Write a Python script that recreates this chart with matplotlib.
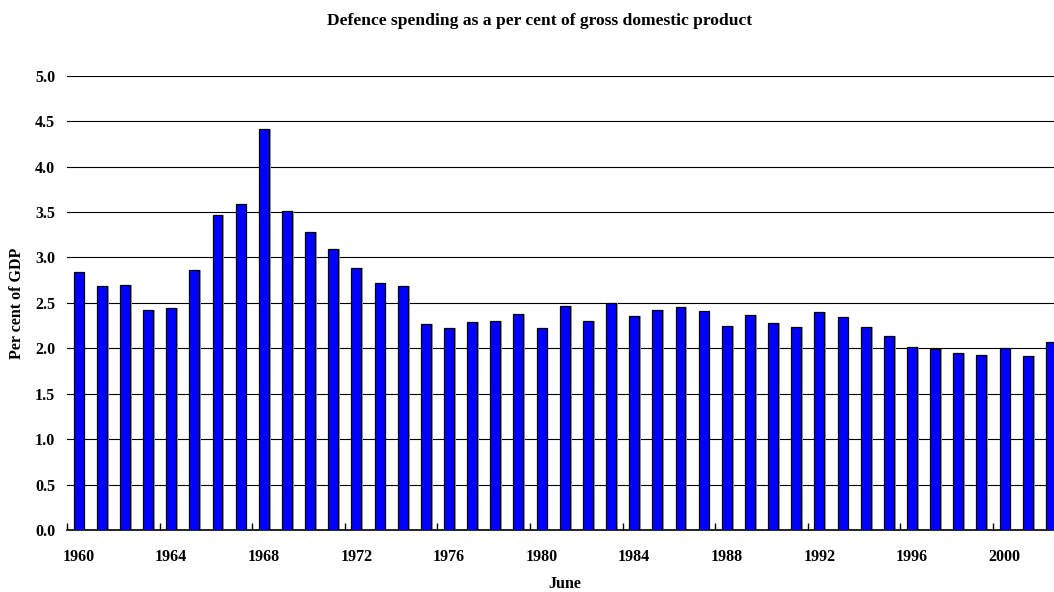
import matplotlib.pyplot as plt
from matplotlib.ticker import FixedLocator

years = list(range(1960, 2003))
spending = [2.84, 2.68, 2.70, 2.42, 2.44, 2.86, 3.47, 3.59, 4.41, 3.51,
            3.28, 3.09, 2.88, 2.72, 2.69, 2.27, 2.22, 2.29, 2.30, 2.38,
            2.22, 2.47, 2.30, 2.50, 2.35, 2.42, 2.45, 2.41, 2.25, 2.37,
            2.28, 2.23, 2.40, 2.34, 2.23, 2.14, 2.01, 1.99, 1.95, 1.93,
            2.00, 1.91, 2.07]
label_years = list(range(1960, 2001, 4))
y_ticks = [0.0, 0.5, 1.0, 1.5, 2.0, 2.5, 3.0, 3.5, 4.0, 4.5, 5.0]

plt.rcParams['font.family'] = ['Liberation Serif', 'DejaVu Serif']
plt.rcParams['font.weight'] = 'bold'

W, H = 1054, 592
fig = plt.figure(figsize=(W / 100, H / 100), dpi=100)
# axes runs a bit past the right edge, like the cropped original
left, right, bottom, top = 67, 1062.5, 530, 75.7
ax = fig.add_axes([left / W, 1 - bottom / H, (right - left) / W, (bottom - top) / H])

# light grey shadow, then the bars
ax.bar([y + 0.07 for y in years], spending, width=0.45, color='#a0a0a0',
       zorder=2)
ax.bar(years, spending, width=0.43, color='#0000ff', edgecolor='black',
       linewidth=0.9, zorder=3)

ax.set_xlim(1959.5, 2002.5)
ax.set_ylim(0, 5.0)

ax.set_yticks(y_ticks)
ax.set_yticklabels([f"{v:.1f}" for v in y_ticks], fontsize=11.5, fontweight='bold')
ax.tick_params(axis='y', length=0, pad=8.5)
ax.yaxis.grid(True, color='black', linewidth=0.8)
ax.set_axisbelow(True)

# labels under bars, tick marks between bars every 4 years
ax.set_xticks(label_years)
ax.set_xticklabels([str(y) for y in label_years], fontsize=11.5, fontweight='bold')
ax.tick_params(axis='x', which='major', length=0, pad=14)
ax.xaxis.set_minor_locator(FixedLocator([y - 0.5 for y in label_years]))
ax.tick_params(axis='x', which='minor', direction='in', length=5, width=1)

for s in ['top', 'right', 'left']:
    ax.spines[s].set_visible(False)
ax.spines['bottom'].set_linewidth(1.2)

ax.set_ylabel("Per cent of GDP", fontsize=11.5, fontweight='bold', labelpad=7)
fig.text(565 / W, 1 - 584 / H, "June", ha='center', va='center',
         fontsize=11.5, fontweight='bold')
fig.text(540 / W, 1 - 21 / H, "Defence spending as a per cent of gross domestic product",
         ha='center', va='center', fontsize=12.6, fontweight='bold')

fig.savefig("out.png", dpi=100)
